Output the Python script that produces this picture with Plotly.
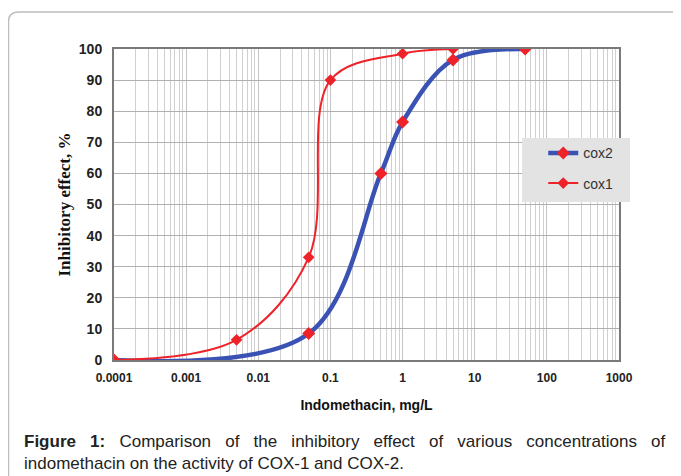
import plotly.graph_objects as go

# Data
cox2_x = [0.0001, 0.05, 0.5, 1, 5, 50]
cox2_y = [0, 8.5, 60, 76.5, 96.5, 100]
cox1_x = [0.0001, 0.005, 0.05, 0.1, 1, 5]
cox1_y = [0, 6.5, 33, 90, 98.5, 100]

x_tickvals = [0.0001, 0.001, 0.01, 0.1, 1, 10, 100, 1000]
x_ticktext = ["0.0001", "0.001", "0.01", "0.1", "1", "10", "100", "1000"]
y_tickvals = list(range(0, 101, 10))

minor_vals = [m * 10 ** e for e in range(-4, 3) for m in range(2, 10)]

RED = "#EE2229"
BLUE = "#3A52B4"
SANS = "Liberation Sans, Arial, sans-serif"

fig = go.Figure()
fig.add_trace(go.Scatter(
    x=cox2_x, y=cox2_y, name="cox2", mode="lines+markers", legendgroup="a",
    line=dict(color=BLUE, width=4.5, shape="spline", smoothing=1.0),
    marker=dict(symbol="diamond", size=10, color=RED, line=dict(width=0)),
))
fig.add_trace(go.Scatter(
    x=cox1_x, y=cox1_y, name="cox1", mode="lines+markers", legendgroup="b",
    line=dict(color=RED, width=2, shape="spline", smoothing=1.0),
    marker=dict(symbol="diamond", size=9, color=RED, line=dict(width=0)),
))

fig.update_layout(
    width=673, height=468,
    margin=dict(l=106, r=62, t=41, b=116),
    paper_bgcolor="white", plot_bgcolor="white",
    showlegend=True,
    legend=dict(
        x=0.85, y=0.716, xanchor="left", yanchor="top",
        bgcolor="rgba(0,0,0,0)", borderwidth=0,
        font=dict(family=SANS, size=14, color="#333333"),
        itemwidth=30, tracegroupgap=9, traceorder="grouped",
    ),
    xaxis=dict(
        type="log", range=[-4, 3],
        tickvals=x_tickvals, ticktext=["<b>%s</b>" % t for t in x_ticktext],
        tickfont=dict(family=SANS, size=12, color="#222222"),
        showgrid=True, gridcolor="#C4C4C4", gridwidth=1,
        minor=dict(tickvals=minor_vals, showgrid=True, gridcolor="#D0D0D0", gridwidth=1, ticks=""),
        showline=True, linecolor="#7A7A7A", linewidth=2, mirror=True,
        ticks="", zeroline=False, ticklabelstandoff=6,
        title=dict(text="<b>Indomethacin, mg/L</b>",
                   font=dict(family=SANS, size=14, color="#111111"),
                   standoff=16),
    ),
    yaxis=dict(
        range=[0, 100], tickvals=y_tickvals, ticktext=["<b>%d</b>" % v for v in y_tickvals],
        tickfont=dict(family=SANS, size=14, color="#222222"),
        showgrid=True, gridcolor="#B0B0B0", gridwidth=1,
        showline=True, linecolor="#7A7A7A", linewidth=2, mirror=True,
        ticks="", zeroline=False, ticklabelstandoff=7,
        title=dict(text="<b>Inhibitory effect, %</b>",
                   font=dict(family="Liberation Serif, Times New Roman, serif", size=17, color="#111111"),
                   standoff=4),
    ),
)

# legend background box (extends past plot edge as in reference)
fig.add_shape(
    type="rect", xref="paper", yref="paper",
    x0=0.808, x1=1.0218, y0=0.508, y1=0.714,
    fillcolor="#E3E3E3", line=dict(width=0), layer="above",
)

# rounded frame around figure
fig.add_shape(
    type="path", xref="paper", yref="paper", layer="below",
    path="M -0.2089,-0.40 L -0.2089,1.087 Q -0.2089,1.119 -0.189,1.119 L 1.2,1.119",
    line=dict(color="#BDBDBD", width=1.5),
)

cap_font = dict(family=SANS, size=17, color="#222222")
NB = "\u00a0\u00a0"
line1_words = ["<b>Figure", "1:</b>", "Comparison", "of", "the", "inhibitory", "effect",
               "of", "various", "concentrations", "of"]
line1 = (" " + NB).join(line1_words)
fig.add_annotation(
    xref="paper", yref="paper", x=-0.1822, y=-0.2605, xanchor="left", yanchor="middle",
    text=line1, showarrow=False, font=cap_font,
)
fig.add_annotation(
    xref="paper", yref="paper", x=-0.1822, y=-0.3312, xanchor="left", yanchor="middle",
    text="indomethacin on the activity of COX-1 and COX-2.",
    showarrow=False, font=cap_font,
)

fig.write_html("out.html")
